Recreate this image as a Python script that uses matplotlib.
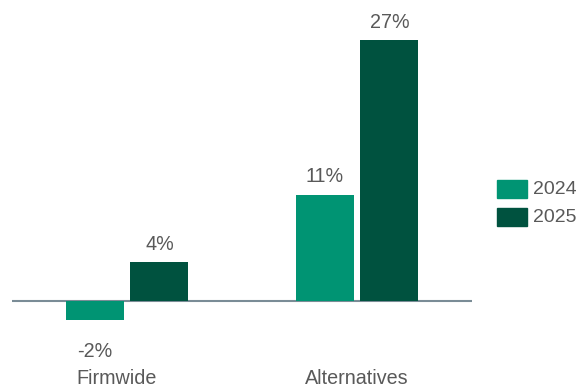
import matplotlib
matplotlib.use("Agg")
import matplotlib.pyplot as plt
import numpy as np
from matplotlib.patches import Rectangle

categories = ["Firmwide", "Alternatives"]
series_names = ["2024", "2025"]
values_2024 = [-2, 11]
values_2025 = [4, 27]
labels_2024 = ["-2%", "11%"]
labels_2025 = ["4%", "27%"]

c2024 = "#009473"
c2025 = "#00523f"
txt = "#595959"
fs = 14.2

plt.rcParams['font.family'] = ['Liberation Sans', 'DejaVu Sans']

W, H = 576, 389
fig = plt.figure(figsize=(5.76, 3.89), dpi=100)
ax = fig.add_axes([12/W, 1-340/H, 460/W, 330/H])

x = np.arange(len(categories))
w = 0.252
off = 0.141
b1 = ax.bar(x - off, values_2024, w, color=c2024)
b2 = ax.bar(x + off, values_2025, w, color=c2025)

for bars, labs in ((b1, labels_2024), (b2, labels_2025)):
    for rect, lab in zip(bars, labs):
        h = rect.get_height()
        cx = rect.get_x() + rect.get_width() / 2
        if h >= 0:
            ax.annotate(lab, (cx, h), xytext=(0, 6), textcoords="offset points",
                        ha="center", va="bottom", fontsize=fs, color=txt)
        else:
            ax.annotate(lab, (cx, h), xytext=(0, -15.5), textcoords="offset points",
                        ha="center", va="top", fontsize=fs, color=txt)

ax.axhline(0, color="#7a8c96", lw=1.5, zorder=0)
ax.set_xlim(-0.5, 1.5)
ax.set_ylim(-4.03, 30.1)
for s in ax.spines.values():
    s.set_visible(False)
ax.set_yticks([])
ax.set_xticks([])

for xi, cat in zip(x, categories):
    fig.text((12 + (xi + 0.5) * 230 - (10 if xi == 0 else 0)) / W, 1 - 379/H, cat,
             ha="center", va="center", fontsize=fs, color=txt)

# legend drawn manually
for i, (name, col) in enumerate(zip(series_names, [c2024, c2025])):
    top = 180 + i * 28
    fig.patches.append(Rectangle((497/W, 1 - (top + 18)/H), 30/W, 18/H,
                                 transform=fig.transFigure, color=col))
    fig.text(533/W, 1 - (top + 9.5)/H, name, ha="left", va="center",
             fontsize=14, color=txt)

fig.savefig("out.png", dpi=100)
